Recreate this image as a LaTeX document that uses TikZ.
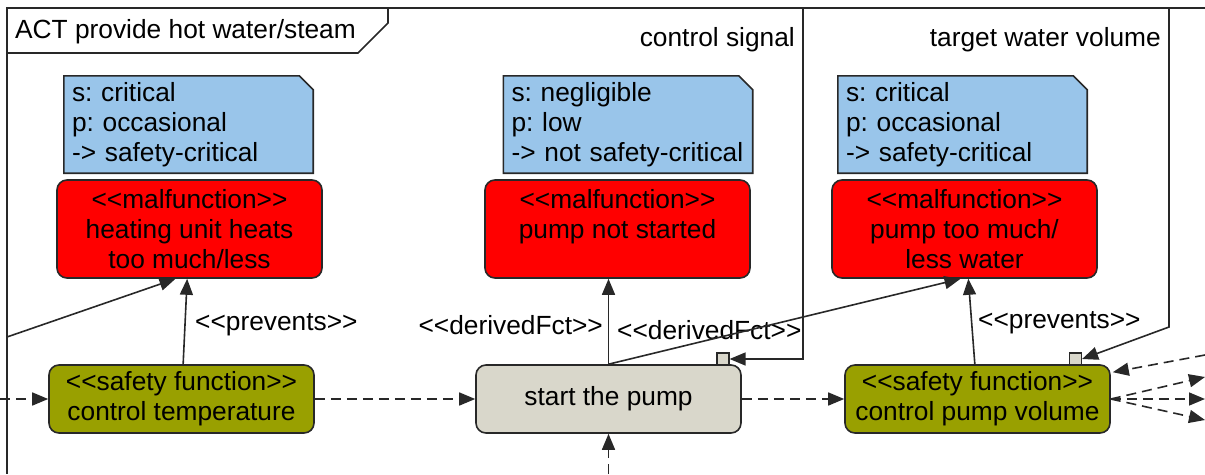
\documentclass[tikz,border=0pt]{standalone}
\usepackage{fontspec}
\setmainfont{Liberation Sans}[Ligatures=TeXOff]
\usepackage{tikz}
\usetikzlibrary{positioning,arrows.meta,calc,backgrounds}
\definecolor{noteblue}{RGB}{153,197,234}
\definecolor{malred}{RGB}{255,0,0}
\definecolor{sfgreen}{RGB}{153,160,0}
\definecolor{actgrey}{RGB}{217,215,203}
\definecolor{edgegrey}{RGB}{40,40,40}
\frenchspacing

\begin{document}
\begin{tikzpicture}[x=1pt,y=-1pt,
		every node/.style={font=\fontsize{26.3}{30}\selectfont},
		note/.style={minimum width=249pt,minimum height=97pt,text width=233pt,align=left,inner xsep=8pt,inner ysep=0pt},
		noteedge/.style={draw=edgegrey,line width=1.6pt,fill=noteblue},
		malfct/.style={draw=edgegrey,line width=1.6pt,fill=malred,rounded corners=10pt,minimum width=265pt,minimum height=98pt,align=center,inner sep=0pt},
		safefct/.style={draw=edgegrey,line width=1.6pt,fill=sfgreen,rounded corners=10pt,minimum width=265pt,minimum height=68pt,align=center,inner sep=0pt},
		action/.style={draw=edgegrey,line width=1.6pt,fill=actgrey,rounded corners=10pt,minimum width=265pt,minimum height=68pt,align=center,inner sep=0pt},
		pin/.style={draw=edgegrey,line width=1.2pt,fill=actgrey,minimum size=12pt,inner sep=0pt},
		flow/.style={line width=1.6pt,draw=edgegrey,-{Triangle[length=16pt,width=13pt]}},
		objflow/.style={flow,dash pattern=on 10pt off 6pt},
		stereo/.style={inner sep=0pt}]
		
		\useasboundingbox (0,0) rectangle (1205,474);
		
		% frame
		\draw[line width=1.6pt,edgegrey] (1205,8) -- (7,8) -- (7,474);
		\draw[line width=1.6pt,edgegrey] (7,53) -- (358,53) -- (388,23) -- (388,8);
		\node[stereo,anchor=west] (title) at (15,32) {ACT provide hot water/steam};
		
		% notes
		\node[note] (note1) at (188.5,124.5) {s: critical\\p: occasional\\-> safety-critical};
		\node[note] (note2) at (628,124.5) {s: negligible\\p: low\\-> not safety-critical};
		\node[note] (note3) at (962.5,124.5) {s: critical\\p: occasional\\-> safety-critical};
		\begin{scope}[on background layer]
			\foreach \n in {note1,note2,note3}
				\draw[noteedge] (\n.south west) -- (\n.north west) -- ($(\n.north east)+(-14,0)$) -- ($(\n.north east)+(0,14)$) -- (\n.south east) -- cycle;
		\end{scope}
		
		% malfunctions
		\node[malfct] (mal1) at (189.5,229) {<<malfunction>>\\heating unit heats\\too much/less};
		\node[malfct] (mal2) at (617.5,229) {<<malfunction>>\\pump not started\\\mbox{}};
		\node[malfct] (mal3) at (964.5,229) {<<malfunction>>\\pump too much/\\less water};
		
		% actions
		\node[safefct] (sf1) at (181.5,399) {<<safety function>>\\control temperature};
		\node[action] (pump) at (608.5,399) {start the pump};
		\node[safefct] (sf3) at (977.5,399) {<<safety function>>\\control pump volume};
		
		\node[pin] (pin1) at (723,359) {};
		\node[pin] (pin2) at (1075.5,359) {};
		
		% free ends
		\coordinate (in1) at (7,337);
		\coordinate (in2) at (0,399);
		\coordinate (in3) at (608.5,474);
		\coordinate (sig1) at (803,8);
		\coordinate (sig2) at (1169,8);
		\coordinate (sig2b) at (1169,327);
		\coordinate (r0) at (1205,355);
		\coordinate (r1) at (1205,377);
		\coordinate (r2) at (1205,399);
		\coordinate (r3) at (1205,420);
		
		% labels
		\node[stereo,anchor=east] (cslabel) at (795,40) {control signal};
		\node[stereo,anchor=east] (twlabel) at (1161,40) {target water volume};
		\node[stereo,anchor=west] (prev1) at (195,325) {<<prevents>>};
		\node[stereo,anchor=east] (der1) at (603,325) {<<derivedFct>>};
		\node[stereo,anchor=west] (der2) at (617,330) {<<derivedFct>>};
		\node[stereo,anchor=west] (prev3) at (978,323) {<<prevents>>};
		
		% control flows
		\draw[flow] (sf1) -- (mal1);
		\draw[flow] (in1) -- ($(mal1.south)+(-14,0)$);
		\draw[flow] (pump.north) -- (pump.north |- mal2.south);
		\draw[flow] (pump.north) -- ($(mal3.south)+(-4,0)$);
		\draw[flow] (sf3) -- (mal3);
		\draw[flow] (sig1) |- (pin1.east);
		\draw[flow] (sig2) -- (sig2b) -- (pin2.east);
		
		% object flows
		\draw[objflow] (in2) -- (sf1.west);
		\draw[objflow] (sf1.east) -- (pump.west);
		\draw[objflow] (pump.east) -- (sf3.west);
		\draw[objflow] (in3) -- (pump.south);
		\draw[objflow] (r0) -- ($(sf3.north east)+(2,8)$);
		\draw[objflow] (sf3.east) -- (r1);
		\draw[objflow] (sf3.east) -- (r2);
		\draw[objflow] (sf3.east) -- (r3);
		
	\end{tikzpicture}
\end{document}
